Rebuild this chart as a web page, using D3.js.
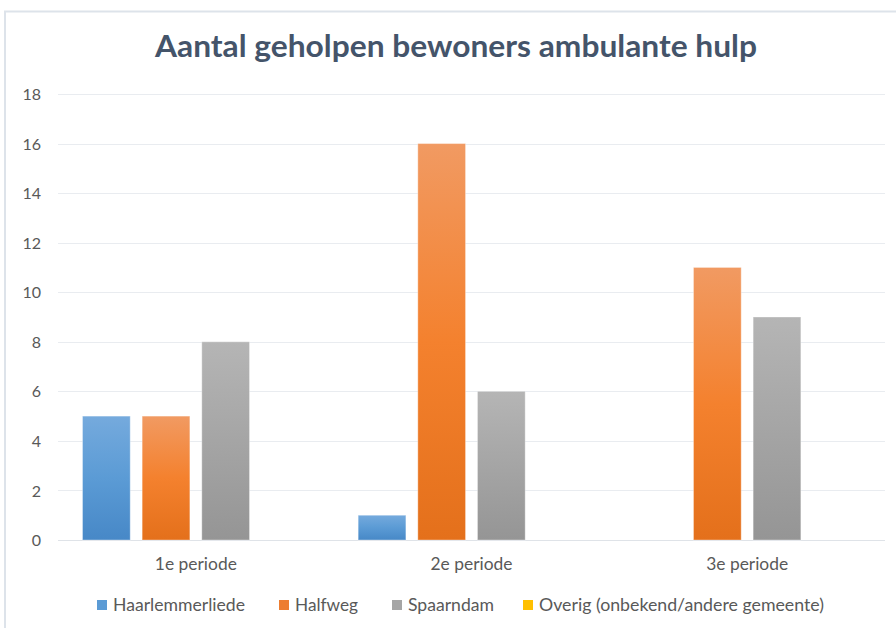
<!DOCTYPE html>
<html><head><meta charset="utf-8">
<script src="https://cdn.jsdelivr.net/npm/d3@7/dist/d3.min.js"></script>
<style>
html,body{margin:0;padding:0;background:#fff;}
svg{display:block;font-family:Lato,"Open Sans",sans-serif;}
</style></head>
<body><svg id="c" width="896" height="628"></svg>
<script>
const title = "Aantal geholpen bewoners ambulante hulp";
const categories = ["1e periode", "2e periode", "3e periode"];
const seriesNames = ["Haarlemmerliede", "Halfweg", "Spaarndam", "Overig (onbekend/andere gemeente)"];
const haarlemmerliede = [5, 1, 0];
const halfweg = [5, 16, 11];
const spaarndam = [8, 6, 9];
const overig = [0, 0, 0];
const yTicks = [0, 2, 4, 6, 8, 10, 12, 14, 16, 18];
const seriesColors = [
  ["#75aadd", "#5b9bd5", "#4788c7"],
  ["#f19a62", "#f4812e", "#e4701b"],
  ["#b5b5b5", "#a5a5a5", "#959595"],
  ["#ffcf33", "#ffc000", "#e6ad00"]
];
const legendSwatch = ["#5b9bd5", "#ed7d31", "#a5a5a5", "#ffc000"];
const values = [haarlemmerliede, halfweg, spaarndam, overig];

const svg = d3.select("#c");
svg.append("rect").attr("x", 5).attr("y", 11.5).attr("width", 900).attr("height", 640)
  .attr("fill", "#fff").attr("stroke", "#dde3ea").attr("stroke-width", 2);

const defs = svg.append("defs");
seriesColors.forEach((c, i) => {
  const g = defs.append("linearGradient").attr("id", "g" + i)
    .attr("x1", 0).attr("y1", 0).attr("x2", 0).attr("y2", 1);
  g.append("stop").attr("offset", "0%").attr("stop-color", c[0]);
  g.append("stop").attr("offset", "50%").attr("stop-color", c[1]);
  g.append("stop").attr("offset", "100%").attr("stop-color", c[2]);
});

const plotL = 58, plotR = 885, plotT = 94, plotB = 540;
const y = d3.scaleLinear().domain([0, 18]).range([plotB, plotT]);
const x0 = d3.scaleBand().domain(categories).range([plotL, plotR]).padding(0);
const grpPad = 24.5;
const x1 = d3.scaleBand().domain(d3.range(seriesNames.length))
  .range([grpPad, x0.bandwidth() - grpPad]).paddingInner(0.2).paddingOuter(0);

svg.append("g").selectAll("line").data(yTicks).join("line")
  .attr("x1", plotL).attr("x2", plotR)
  .attr("y1", d => Math.round(y(d)) + 0.5).attr("y2", d => Math.round(y(d)) + 0.5)
  .attr("stroke", d => d === 0 ? "#dfe3e8" : "#e9ecf0").attr("stroke-width", 1);

const yAxis = d3.axisLeft(y).tickValues(yTicks).tickSize(0).tickPadding(0);
const ya = svg.append("g").attr("transform", `translate(41,0)`).call(yAxis);
ya.select(".domain").remove();
ya.selectAll("text").attr("fill", "#595959").attr("font-size", 16)
  .attr("font-family", "Lato, sans-serif").attr("dy", "0.35em");

const groups = svg.append("g").selectAll("g").data(categories).join("g")
  .attr("transform", d => `translate(${x0(d)},0)`);
groups.selectAll("rect").data((d, ci) => values.map((v, si) => ({si, v: v[ci]})))
  .join("rect")
  .filter(d => d.v > 0)
  .attr("x", d => x1(d.si)).attr("width", x1.bandwidth())
  .attr("y", d => y(d.v)).attr("height", d => y(0) - y(d.v))
  .attr("fill", d => `url(#g${d.si})`)
  .attr("stroke", "rgba(255,255,255,0.35)").attr("stroke-width", 1);

const xAxis = d3.axisBottom(x0).tickSize(0).tickPadding(0);
const xa = svg.append("g").attr("transform", `translate(0,564)`).call(xAxis);
xa.select(".domain").remove();
xa.selectAll("text").attr("fill", "#595959").attr("font-size", 17)
  .attr("font-family", "Lato, sans-serif").attr("dy", "0.35em")
  .attr("textLength", 82).attr("lengthAdjust", "spacingAndGlyphs");

svg.append("text").attr("x", 456).attr("y", 49).attr("text-anchor", "middle")
  .attr("dominant-baseline", "middle")
  .attr("font-size", 30).attr("font-weight", "bold").attr("fill", "#44546a")
  .attr("textLength", 602).attr("lengthAdjust", "spacingAndGlyphs")
  .text(title);

const legendX = [97, 279, 392, 523];
const legendW = [132, 63, 86, 285];
const lg = svg.append("g").selectAll("g").data(seriesNames).join("g")
  .attr("transform", (d, i) => `translate(${legendX[i]},605)`);
lg.append("rect").attr("x", 0).attr("y", -5).attr("width", 10).attr("height", 10)
  .attr("fill", (d, i) => legendSwatch[i]);
lg.append("text").attr("x", 16).attr("dy", "0.35em").attr("font-size", 16.5)
  .attr("fill", "#595959")
  .attr("textLength", (d, i) => legendW[i]).attr("lengthAdjust", "spacingAndGlyphs")
  .text(d => d);
</script></body></html>
